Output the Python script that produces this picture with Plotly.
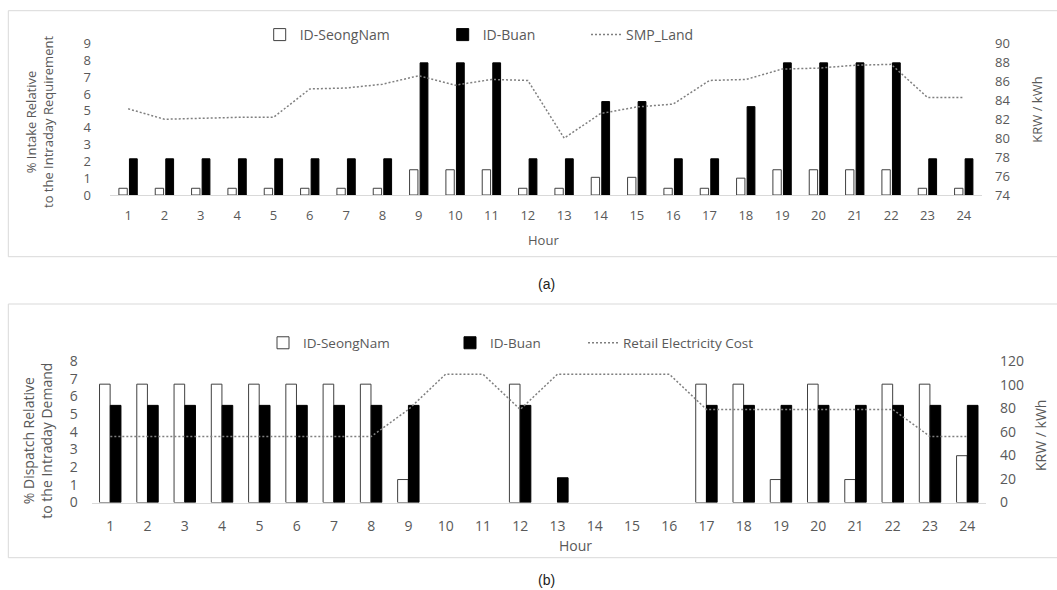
import plotly.graph_objects as go

# ---------------- data ----------------
hours = list(range(1, 25))
hour_labels = [str(h) for h in hours]

# (a) intake relative to intraday requirement (%)
seongnam_a = [0.4, 0.4, 0.4, 0.4, 0.4, 0.4, 0.4, 0.4, 1.5, 1.5, 1.5, 0.4,
              0.4, 1.05, 1.05, 0.4, 0.4, 1.0, 1.5, 1.5, 1.5, 1.5, 0.4, 0.4]
buan_a = [2.15, 2.15, 2.15, 2.15, 2.15, 2.15, 2.15, 2.15, 7.85, 7.85, 7.85, 2.15,
          2.15, 5.55, 5.55, 2.15, 2.15, 5.25, 7.85, 7.85, 7.85, 7.85, 2.15, 2.15]
smp_land = [83.1, 82.0, 82.1, 82.2, 82.2, 85.2, 85.3, 85.7, 86.6, 85.6, 86.2, 86.1,
            80.0, 82.6, 83.3, 83.6, 86.1, 86.2, 87.3, 87.4, 87.7, 87.8, 84.3, 84.3]

# (b) dispatch relative to intraday demand (%)
seongnam_b = [6.7, 6.7, 6.7, 6.7, 6.7, 6.7, 6.7, 6.7, 1.3, 0, 0, 6.7,
              0, 0, 0, 0, 6.7, 6.7, 1.3, 6.7, 1.3, 6.7, 6.7, 2.65]
buan_b = [5.5, 5.5, 5.5, 5.5, 5.5, 5.5, 5.5, 5.5, 5.5, 0, 0, 5.5,
          1.4, 0, 0, 0, 5.5, 5.5, 5.5, 5.5, 5.5, 5.5, 5.5, 5.5]
retail_cost = [56, 56, 56, 56, 56, 56, 56, 56, 79, 109, 109, 79,
               109, 109, 109, 109, 79, 79, 79, 79, 79, 79, 56, 56]

left_ticks_a = list(range(0, 10))
right_ticks_a = list(range(74, 91, 2))
left_ticks_b = list(range(0, 9))
right_ticks_b = list(range(0, 121, 20))

# ---------------- style ----------------
W, H = 1057, 590
TXT = "#595959"
FONT = "Open Sans"
WHITE_LINE = "#404040"
DOT = "#7f7f7f"
DOT_DASH = "2px,2px"


def px(x):
    return x / W


def py(y):
    return 1 - y / H


def nz(vals):
    # zero-height bars are not drawn at all
    return [v if v else None for v in vals]


fig = go.Figure()

# (a)
fig.add_trace(go.Bar(x=hours, y=nz(seongnam_a), name="ID-SeongNam", xaxis="x", yaxis="y",
                     marker=dict(color="white", line=dict(color=WHITE_LINE, width=1)),
                     offset=-0.255, width=0.23, legend="legend"))
fig.add_trace(go.Bar(x=hours, y=nz(buan_a), name="ID-Buan", xaxis="x", yaxis="y",
                     marker=dict(color="black", line=dict(color="black", width=1)),
                     offset=0.035, width=0.215, legend="legend2"))
fig.add_trace(go.Scatter(x=hours, y=smp_land, name="SMP_Land", xaxis="x", yaxis="y2",
                         mode="lines", line=dict(color=DOT, width=1.5, dash=DOT_DASH),
                         legend="legend3"))

# (b)
fig.add_trace(go.Bar(x=hours, y=nz(seongnam_b), name="ID-SeongNam", xaxis="x2", yaxis="y3",
                     marker=dict(color="white", line=dict(color=WHITE_LINE, width=1)),
                     offset=-0.29, width=0.285, legend="legend4"))
fig.add_trace(go.Bar(x=hours, y=nz(buan_b), name="ID-Buan", xaxis="x2", yaxis="y3",
                     marker=dict(color="black", line=dict(color="black", width=1)),
                     offset=0.0, width=0.285, legend="legend5"))
fig.add_trace(go.Scatter(x=hours, y=retail_cost, name="Retail Electricity Cost", xaxis="x2",
                         yaxis="y4", mode="lines",
                         line=dict(color=DOT, width=1.5, dash=DOT_DASH), legend="legend6"))

tickfont_a = dict(family=FONT, size=13, color=TXT)
tickfont_b = dict(family=FONT, size=14, color=TXT)

xcommon = dict(tickmode="array", tickvals=hours, ticktext=hour_labels, range=[0.5, 24.5],
               showgrid=False, zeroline=False, showline=True, linecolor="#d9d9d9",
               linewidth=1, ticks="", fixedrange=True, automargin=False)
ycommon = dict(showgrid=False, zeroline=False, showline=False, ticks="", fixedrange=True,
               automargin=False)

fig.update_layout(
    width=W, height=H,
    margin=dict(l=0, r=0, t=0, b=0, pad=0, autoexpand=False),
    paper_bgcolor="white", plot_bgcolor="white",
    barmode="overlay",
    showlegend=True,
    xaxis=dict(domain=[px(110), px(982)], anchor="y", tickfont=tickfont_a,
               ticklabelstandoff=8, **xcommon),
    yaxis=dict(domain=[py(195), py(43.5)], anchor="x", range=[0, 9],
               tickvals=left_ticks_a, tickfont=tickfont_a, ticklabelstandoff=18, **ycommon),
    yaxis2=dict(overlaying="y", anchor="x", side="right", range=[74, 90],
                tickvals=right_ticks_a, tickfont=tickfont_a, ticklabelstandoff=12, **ycommon),
    xaxis2=dict(domain=[px(91.7), px(986)], anchor="y3", tickfont=tickfont_b,
                ticklabelstandoff=11, **xcommon),
    yaxis3=dict(domain=[py(502.5), py(361.2)], anchor="x2", range=[0, 8],
                tickvals=left_ticks_b, tickfont=tickfont_b, ticklabelstandoff=13, **ycommon),
    yaxis4=dict(overlaying="y3", anchor="x2", side="right", range=[0, 120],
                tickvals=right_ticks_b, tickfont=tickfont_b, ticklabelstandoff=13, **ycommon),
)

leg_common = dict(orientation="h", yanchor="middle", xanchor="left",
                  bgcolor="rgba(0,0,0,0)", borderwidth=0, visible=True)
lf_a = dict(family=FONT, size=14, color=TXT)
lf_b = dict(family=FONT, size=13.5, color=TXT)
fig.update_layout(
    legend=dict(x=px(259.7), y=py(35), font=lf_a, **leg_common),
    legend2=dict(x=px(442.7), y=py(35), font=lf_a, **leg_common),
    legend3=dict(x=px(586), y=py(35), font=lf_a, **leg_common),
    legend4=dict(x=px(263), y=py(343), font=lf_b, **leg_common),
    legend5=dict(x=px(450), y=py(343), font=lf_b, **leg_common),
    legend6=dict(x=px(583), y=py(343), font=lf_b, **leg_common),
)

# panel frames
for (y0, y1) in [(10.7, 256.7), (304, 557.7)]:
    fig.add_shape(type="rect", xref="paper", yref="paper",
                  x0=px(8.3), x1=px(1062), y0=py(y1), y1=py(y0),
                  line=dict(color="#d9d9d9", width=1), fillcolor="rgba(0,0,0,0)",
                  layer="below")

ann = []


def add_text(text, x, y, size, angle=0, family=FONT, color=TXT):
    ann.append(dict(text=text, x=px(x), y=py(y), xref="paper", yref="paper",
                    showarrow=False, textangle=angle, xanchor="center", yanchor="middle",
                    font=dict(family=family, size=size, color=color)))


add_text("% Intake Relative<br>to the Intraday Requirement", 40, 122, 13, -90)
add_text("KRW / kWh", 1036.7, 110, 13, -90)
add_text("Hour", 543, 240, 13)
add_text("(a)", 546.5, 284, 14, family="Liberation Sans", color="#222222")

add_text("% Dispatch Relative<br>to the Intraday Demand", 36.7, 441, 14, -90)
add_text("KRW / kWh", 1040, 436, 14, -90)
add_text("Hour", 575, 545, 14)
add_text("(b)", 546.5, 580, 14, family="Liberation Sans", color="#222222")

fig.update_layout(annotations=ann)

fig.write_html("out.html", config=dict(displayModeBar=False),
               post_script="document.body.style.margin='0';document.body.style.overflow='hidden';")
